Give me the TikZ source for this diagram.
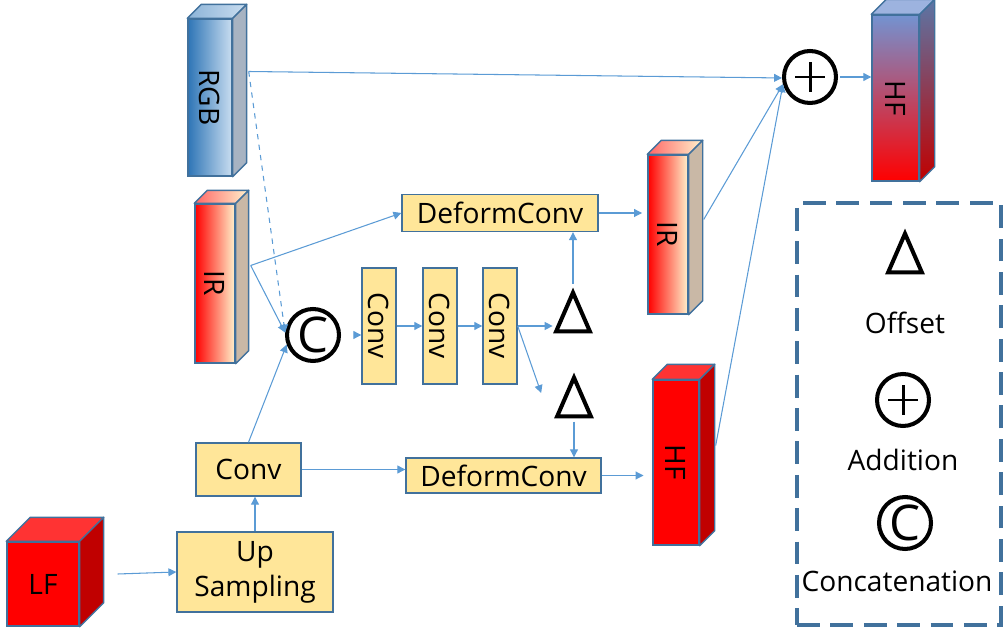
\documentclass[tikz,border=0pt]{standalone}
\usepackage{fontspec}
\setmainfont{Open Sans}
\usepackage{graphicx}
\usepackage{xcolor}
\usetikzlibrary{arrows.meta, positioning, calc}

\definecolor{edgeblue}{HTML}{41719C}
\definecolor{linkblue}{HTML}{5B9BD5}
\definecolor{boxyellow}{HTML}{FFE699}
\definecolor{irbeige}{HTML}{FFF2CC}
\definecolor{irside}{HTML}{C9B8A6}
\definecolor{rgbdark}{HTML}{2E75B6}
\definecolor{rgblight}{HTML}{C9DDF0}
\definecolor{rgbside}{HTML}{A7B3C2}
\definecolor{hfdark}{HTML}{C00000}
\definecolor{hftop}{HTML}{FF3333}
\definecolor{hfblue}{HTML}{7393D1}
\definecolor{hfsideblue}{HTML}{5B76A6}

% top and side faces of a feature block
\newcommand{\cuboid}[4]{%
  \path[cubeedge, #3] (#1.north west) -- ++(#2,-#2) -- ($(#1.north east)+(#2,-#2)$) -- (#1.north east) -- cycle;
  \path[cubeedge, #4] (#1.north east) -- ++(#2,-#2) -- ($(#1.south east)+(#2,-#2)$) -- (#1.south east) -- cycle;
}

\begin{document}
\begin{tikzpicture}[
        x=0.02cm, y=-0.02cm,
        font=\fontsize{16}{20}\selectfont,
        module/.style={rectangle, draw=edgeblue, line width=0.8pt, fill=boxyellow, align=center, inner sep=0pt},
        convbox/.style={module, minimum width=0.68cm, minimum height=2.32cm},
        cubefront/.style={rectangle, draw=edgeblue, line width=0.8pt, inner sep=0pt},
        cubeedge/.style={draw=edgeblue, line width=0.8pt, line join=round},
        opcircle/.style={circle, draw, line width=2.3pt, minimum size=1.04cm, inner sep=0pt},
        addnode/.style={opcircle, path picture={
            \draw[line width=1.7pt] ([xshift=-0.3cm]path picture bounding box.center) -- ([xshift=0.3cm]path picture bounding box.center)
                                    ([yshift=-0.3cm]path picture bounding box.center) -- ([yshift=0.3cm]path picture bounding box.center);}},
        catnode/.style={opcircle, font=\fontsize{28}{28}\selectfont},
        deltabox/.style={rectangle, minimum width=0.66cm, minimum height=0.76cm, inner sep=0pt},
        offsetline/.style={draw, line width=2.3pt, line join=miter},
        legendbox/.style={rectangle, draw=edgeblue, line width=1.8pt, dash pattern=on 13pt off 6pt, minimum width=4.08cm, minimum height=8.44cm},
        arrow/.style={-{Triangle[length=4.5pt,width=4.5pt]}, draw=linkblue, line width=0.6pt}
    ]
    \useasboundingbox (0,0) rectangle (1004,634);

    % Input features
    \node[cubefront, left color=rgbdark, right color=rgblight, minimum width=0.88cm, minimum height=3.14cm] (rgb) at (210,97.5) {\rotatebox{-90}{RGB}};
    \cuboid{rgb}{14}{left color=rgbdark!55, right color=rgblight}{fill=rgbside}

    \node[cubefront, left color=red, middle color=irbeige, right color=irbeige, minimum width=0.8cm, minimum height=3.18cm] (irl) at (215,283.5) {\rotatebox{-90}{IR}};
    \cuboid{irl}{13}{left color=red!60, right color=irbeige}{fill=irside}

    \node[cubefront, fill=red, minimum width=1.44cm, minimum height=1.68cm] (lf) at (43,584) {LF};
    \cuboid{lf}{24}{fill=hftop}{fill=hfdark}

    % Aligned features
    \node[cubefront, left color=red, middle color=irbeige, right color=irbeige, minimum width=0.8cm, minimum height=3.18cm] (irr) at (668,234.5) {\rotatebox{-90}{IR}};
    \cuboid{irr}{14}{left color=red!60, right color=irbeige}{fill=irside}

    \node[cubefront, fill=red, minimum width=0.92cm, minimum height=3.3cm] (hfm) at (676,462.5) {\rotatebox{-90}{HF}};
    \cuboid{hfm}{15}{fill=hftop}{fill=hfdark}

    \node[cubefront, top color=hfblue, bottom color=red, minimum width=0.94cm, minimum height=3.32cm] (hfo) at (895.5,98) {\rotatebox{-90}{HF}};
    \cuboid{hfo}{15}{fill=hfblue!70!white}{top color=hfsideblue, bottom color=hfdark}

    % Modules
    \node[module, minimum width=3.12cm, minimum height=1.6cm] (up) at (255,572) {Up\\Sampling};
    \node[module, minimum width=2.1cm, minimum height=1.06cm] (cb) at (248.5,469.5) {Conv};
    \node[convbox] (cv1) at (379,326) {\rotatebox{-90}{Conv}};
    \node[convbox] (cv2) at (440,326) {\rotatebox{-90}{Conv}};
    \node[convbox] (cv3) at (500,326) {\rotatebox{-90}{Conv}};
    \node[module, minimum width=3.92cm, minimum height=0.74cm] (dcu) at (500,213) {DeformConv};
    \node[module, minimum width=3.9cm, minimum height=0.7cm] (dcb) at (503.5,475.5) {DeformConv};

    % Operators
    \node[catnode] (cc) at (313,335) {C};
    \node[addnode] (plus) at (810,77) {};
    \node[deltabox] (d1) at (573,312) {};
    \node[deltabox] (d2) at (574,397) {};
    \draw[offsetline] (d1.south west) -- (d1.north) -- (d1.south east) -- cycle;
    \draw[offsetline] (d2.south west) -- (d2.north) -- (d2.south east) -- cycle;

    % Connections
    \draw[arrow] ($(lf.east)+(38,-10)$) -- (up.west);
    \draw[arrow] (up.north) -- (up.north |- cb.south);
    \draw[arrow] (cb.north) -- (cc.200);
    \draw[arrow] (cb.east) -- (cb.east -| dcb.west);
    \draw[arrow, dashed] ($(rgb.east)+(16,-26)$) -- (cc.175);
    \draw[arrow] ($(irl.east)+(15,-18)$) -- (cc.175);
    \draw[arrow] ($(irl.east)+(15,-18)$) -- (dcu.west);
    \draw[arrow, shorten <=10pt] (cc) -- (cc -| cv1.west);
    \draw[arrow] (cv1) -- (cv2);
    \draw[arrow] (cv2) -- (cv3);
    \draw[arrow, shorten >=2pt] (cv3) -- (cv3 -| d1.west);
    \draw[arrow] (cv3.east) -- ($(d2.west)+(-16,-4)$);
    \draw[arrow, shorten <=5pt] (d1.north) -- (d1.north |- dcu.south);
    \draw[arrow, shorten <=3pt] (d2.south) -- (d2.south |- dcb.north);
    \draw[arrow, shorten >=3pt] (dcu.east) -- (dcu.east -| irr.west);
    \draw[arrow, shorten >=5pt] (dcb.east) -- (dcb.east -| hfm.west);
    \draw[arrow] ($(rgb.east)+(16,-26)$) -- (plus.182);
    \draw[arrow] ($(irr.east)+(15,-15)$) -- (plus.195);
    \draw[arrow] ($(hfm.east)+(16,-17)$) -- (plus.195);
    \draw[arrow, shorten <=1pt] (plus.east) -- (plus.east -| hfo.west);

    % Legend
    \node[legendbox] (legend) at (899,414) {};
    \node[deltabox] (dl) at (905,253) {};
    \draw[offsetline] (dl.south west) -- (dl.north) -- (dl.south east) -- cycle;
    \node (offsetlbl) at (905,323) {Offset};
    \node[addnode] (pl) at (903,400) {};
    \node (addlbl) at (903,460) {Addition};
    \node[catnode] (cl) at (905,523) {C};
    \node (catlbl) at (897,581) {Concatenation};

\end{tikzpicture}
\end{document}
